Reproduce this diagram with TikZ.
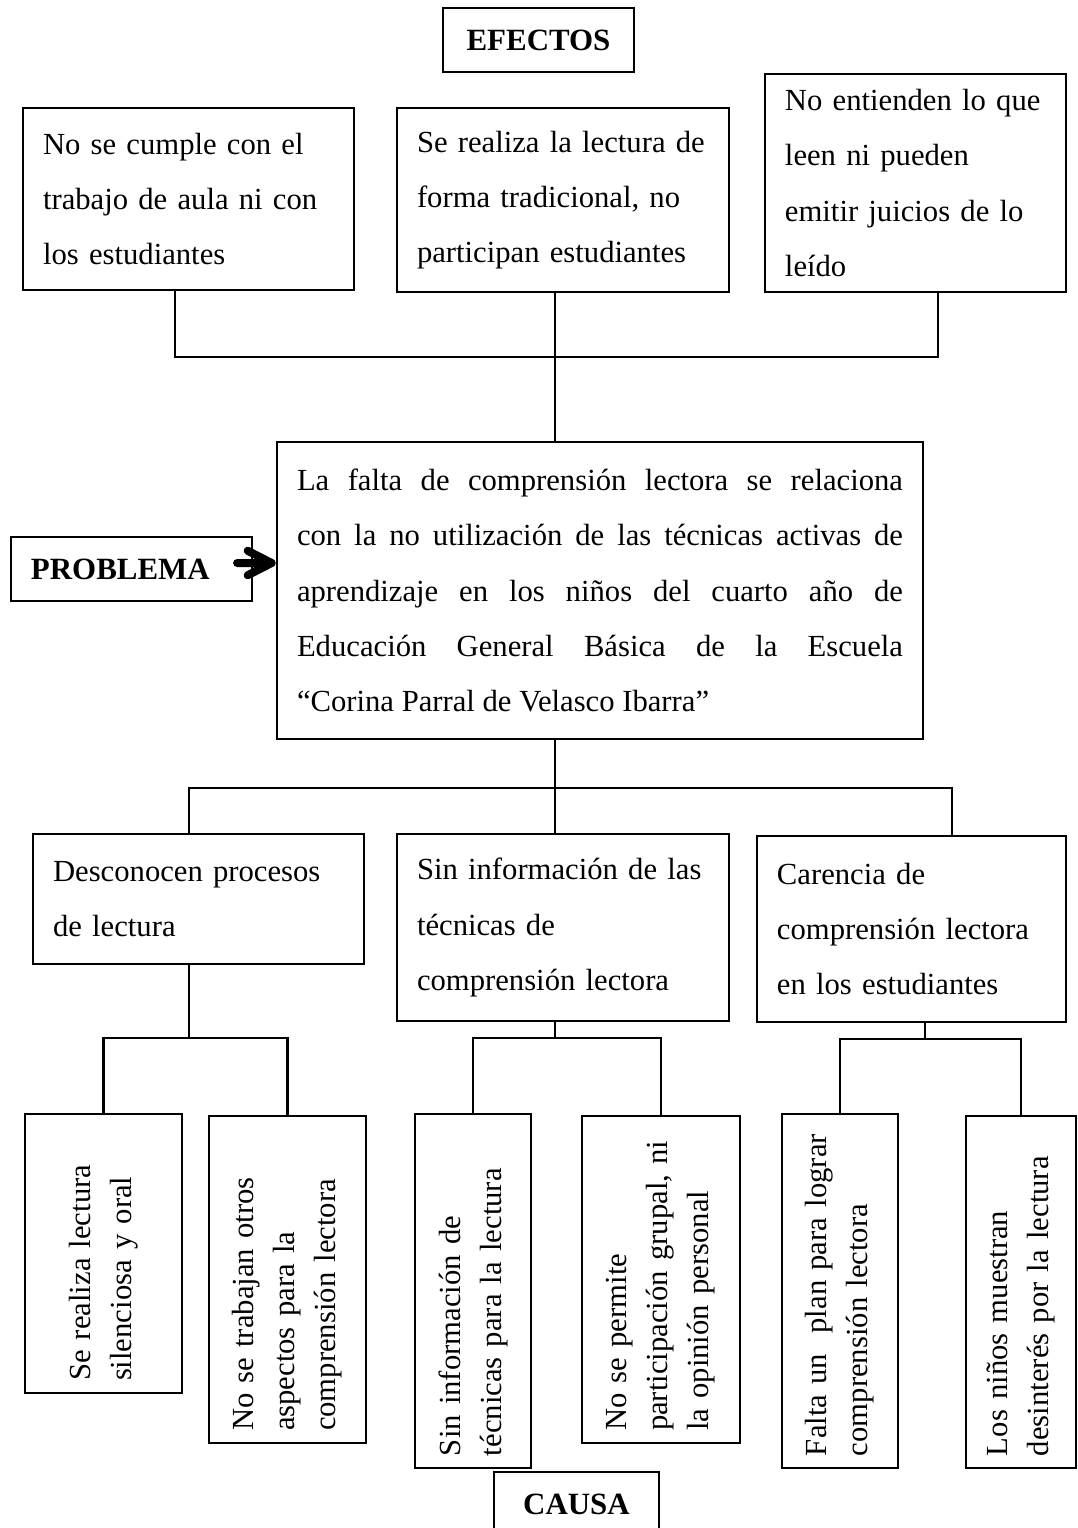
\documentclass[tikz,border=0pt]{standalone}
\usepackage{fontspec}
\setmainfont{Liberation Serif}

\begin{document}
\begin{tikzpicture}[
    x=0.375pt, y=-0.375pt,
    line width=0.8pt,
    tag/.style={draw,font=\fontsize{11.6}{14}\selectfont\bfseries,
        minimum height=24pt,inner sep=0pt},
    box/.style={draw,align=left,inner xsep=7.5pt,inner ysep=0pt,
        font=\fontsize{11.5}{20.7}\selectfont},
    vbox/.style={draw,rotate=90,align=left,inner xsep=4.5pt,inner ysep=0pt,
        font=\fontsize{11.5}{15.4}\selectfont},
    bigarrow/.style={line width=3pt,line cap=round,line join=round}
]
\useasboundingbox (0,0) rectangle (1078,1528);

\node[tag,minimum width=71.6pt] (efectos) at (538.5,40) {EFECTOS};
\node[box,text width=109.1pt,minimum height=68.25pt] (e1) at (188.5,199)
    {No se cumple con el\\trabajo de aula ni con\\los estudiantes};
\node[box,text width=109.5pt,minimum height=69pt] (e2) at (563,200)
    {Se realiza la lectura de\\forma tradicional, no\\participan estudiantes};
\node[box,text width=97.9pt,minimum height=81.75pt] (e3) at (915.5,183)
    {No entienden lo que\\leen ni pueden\\emitir juicios de lo\\leído};

\node[box,align=justify,text width=227.25pt,minimum height=111.4pt] (problema) at (600,590.5)
    {La falta de comprensión lectora se relaciona\linebreak
     con la no utilización de las técnicas activas de\linebreak
     aprendizaje en los niños del cuarto año de\linebreak
     Educación General Básica de la Escuela\linebreak
     “Corina Parral de Velasco Ibarra”};
\node[tag,align=left,text width=75.4pt,inner xsep=7.5pt] (probtag) at (131.5,569) {PROBLEMA};

\node[box,text width=109.1pt,minimum height=48.75pt] (c1) at (198.5,899)
    {Desconocen procesos\\de lectura};
\node[box,text width=109.5pt,minimum height=70.1pt] (c2) at (563,927.5)
    {Sin información de las\\técnicas de\\comprensión lectora};
\node[box,text width=100.9pt,minimum height=69.75pt] (c3) at (911.5,929)
    {Carencia de\\comprensión lectora\\en los estudiantes};

\node[vbox,text width=95.6pt,minimum height=58.9pt] (r1) at (103.5,1253.5)
    {Se realiza lectura\\silenciosa y oral};
\node[vbox,text width=113.6pt,minimum height=58.9pt] (r2) at (287.5,1279.5)
    {No se trabajan otros\\aspectos para la\\comprensión lectora};
\node[vbox,text width=123.75pt,minimum height=43.5pt] (r3) at (473,1291)
    {Sin información de\\técnicas para la lectura};
\node[vbox,text width=113.6pt,minimum height=59.25pt] (r4) at (661,1279.5)
    {No se permite\\participación grupal, ni\\la opinión personal};
\node[vbox,text width=123.75pt,minimum height=43.5pt] (r5) at (840,1291)
    {Falta un\ \ plan para lograr\\comprensión lectora};
\node[vbox,text width=123pt,minimum height=41.25pt] (r6) at (1021,1292)
    {Los niños muestran\\desinterés por la lectura};

\node[tag,minimum width=61.9pt] (causa) at (576.5,1504) {CAUSA};

\coordinate (ej) at (555,357);
\coordinate (cj) at (555,788);
\draw ([xshift=-5.1pt]e1.south) |- (ej) -| ([xshift=8.4pt]e3.south);
\draw ([xshift=-3pt]e2.south) -- (ej |- problema.north);
\draw (ej |- problema.south) -- (cj);
\draw ([xshift=-3.6pt]c1.north) |- (cj) -| ([xshift=15.2pt]c3.north);
\draw (cj) -- (cj |- c2.north);
\draw[bigarrow] ([xshift=-6pt,yshift=2.25pt]probtag.east)
    -- ([xshift=-1.6pt,yshift=2.25pt]probtag.east -| problema.west) coordinate (tip)
    ++(-9pt,4.6pt) -- (tip) -- ++(-9pt,-4.6pt);

\draw ([xshift=-3.6pt]c1.south) -- ++(0,73) coordinate (c1j);
\draw (r1.east) |- (c1j) -| (r2.east);
\draw ([xshift=-3pt]c2.south) -- ++(0,16) coordinate (c2j);
\draw (r3.east) |- (c2j) -| (r4.east);
\draw ([xshift=5.1pt]c3.south) -- ++(0,16) coordinate (c3j);
\draw (r5.east) |- (c3j) -| (r6.east);
\end{tikzpicture}
\end{document}
